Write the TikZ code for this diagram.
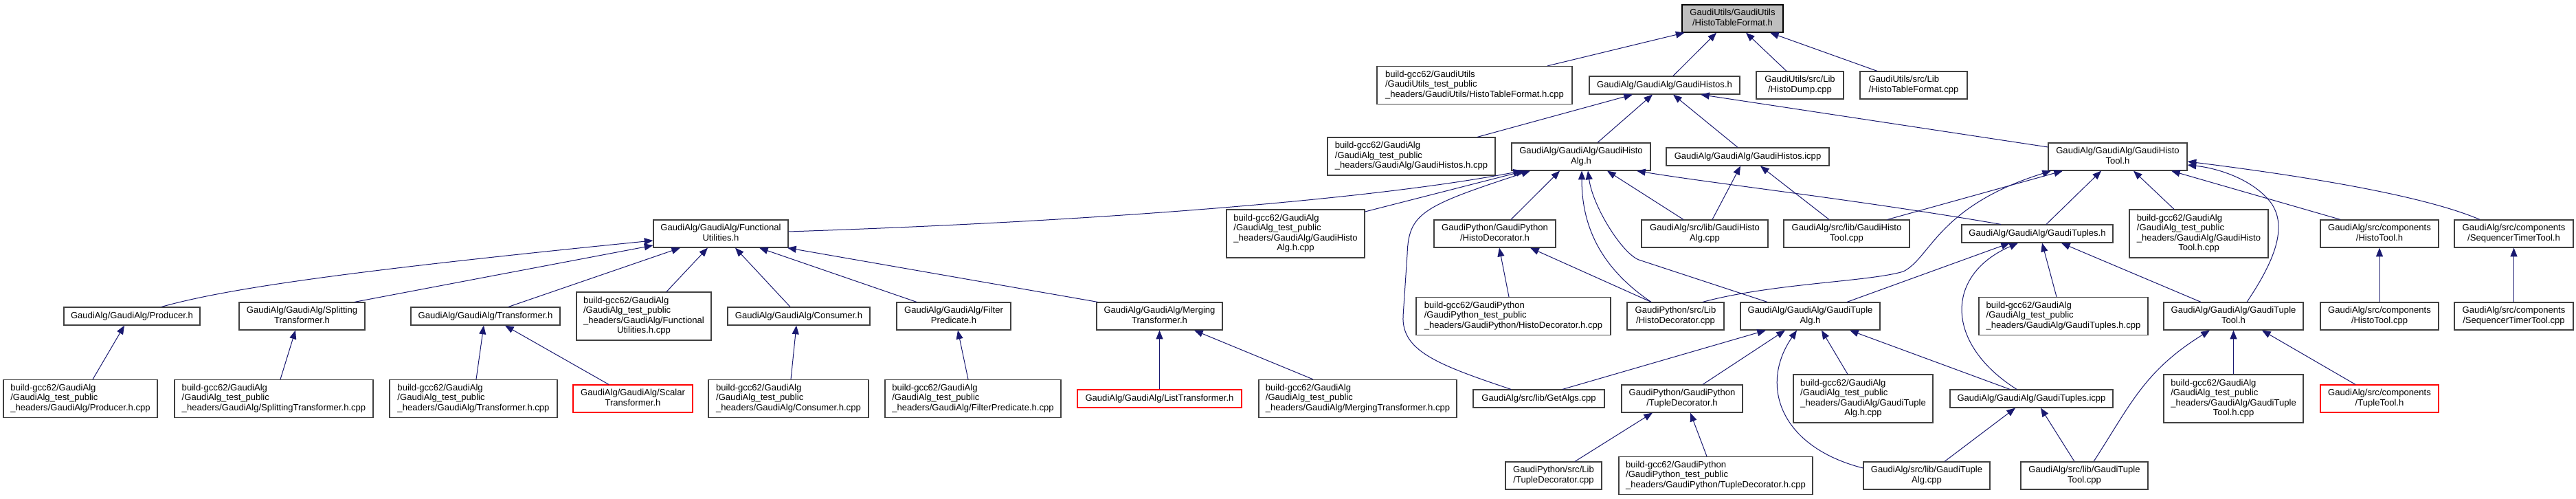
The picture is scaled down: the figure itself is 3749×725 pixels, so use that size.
\documentclass[tikz,border=0pt]{standalone}
\usepackage{fontspec}
\setmainfont{Liberation Sans}
\usetikzlibrary{arrows.meta}
\newcommand{\lbl}[2]{\begin{tabular}{@{}l@{}}#1\\\multicolumn{1}{@{}c@{}}{#2}\end{tabular}}
\begin{document}
\begin{tikzpicture}[x=0.75pt,y=-0.75pt,
 box/.style={draw={rgb,255:red,64;green,64;blue,64}, line width=0.9pt, fill=white, inner sep=0pt, font=\fontsize{9.8}{10.9}\selectfont},
 sz/.style 2 args={minimum width=#1*0.75pt, minimum height=#2*0.75pt},
 redbox/.style={box, draw=red},
 topbox/.style={box, draw=black, fill={rgb,255:red,191;green,191;blue,191}},
 edge/.style={draw={rgb,255:red,25;green,25;blue,112}, line width=0.75pt, -{Triangle[length=9.5pt,width=7.5pt]}}]
\fill[white] (0,0) rectangle (3749,725);
\useasboundingbox (0,0) rectangle (3749,725);

% row 0
\node[topbox, sz={147}{40}] (top) at (2521.5,27) {\lbl{GaudiUtils/GaudiUtils}{/HistoTableFormat.h}};
% row 1
\node[box, sz={284}{55}] (bHTF) at (2146,124) {\lbl{build-gcc62/GaudiUtils\\/GaudiUtils\_test\_public}{\_headers/GaudiUtils/HistoTableFormat.h.cpp}};
\node[box, sz={219}{26}] (GH) at (2422.5,124) {GaudiAlg/GaudiAlg/GaudiHistos.h};
\node[box, sz={127}{40}] (HDump) at (2619.5,124) {\lbl{GaudiUtils/src/Lib}{/HistoDump.cpp}};
\node[box, sz={156}{40}] (HTFcpp) at (2785,124) {\lbl{GaudiUtils/src/Lib}{/HistoTableFormat.cpp}};
% row 2
\node[box, sz={244}{55}] (bGH) at (2054,227.5) {\lbl{build-gcc62/GaudiAlg\\/GaudiAlg\_test\_public}{\_headers/GaudiAlg/GaudiHistos.h.cpp}};
\node[box, sz={202}{40}] (GHA) at (2301,228) {\lbl{GaudiAlg/GaudiAlg/GaudiHisto}{Alg.h}};
\node[box, sz={237}{26}] (GHicpp) at (2543.5,228) {GaudiAlg/GaudiAlg/GaudiHistos.icpp};
\node[box, sz={202}{40}] (GHT) at (3082,228) {\lbl{GaudiAlg/GaudiAlg/GaudiHisto}{Tool.h}};
% row 3
\node[box, sz={196}{40}] (FU) at (1049,340) {\lbl{GaudiAlg/GaudiAlg/Functional}{Utilities.h}};
\node[box, sz={201}{70}] (bGHA) at (1885.5,340) {\lbl{build-gcc62/GaudiAlg\\/GaudiAlg\_test\_public\\\_headers/GaudiAlg/GaudiHisto}{Alg.h.cpp}};
\node[box, sz={177}{40}] (HDh) at (2175.5,340) {\lbl{GaudiPython/GaudiPython}{/HistoDecorator.h}};
\node[box, sz={184}{40}] (GHAcpp) at (2481,340) {\lbl{GaudiAlg/src/lib/GaudiHisto}{Alg.cpp}};
\node[box, sz={183}{40}] (GHTcpp) at (2687.5,340) {\lbl{GaudiAlg/src/lib/GaudiHisto}{Tool.cpp}};
\node[box, sz={220}{26}] (GTs) at (2965,340) {GaudiAlg/GaudiAlg/GaudiTuples.h};
\node[box, sz={202}{70}] (bGHT) at (3200,340) {\lbl{build-gcc62/GaudiAlg\\/GaudiAlg\_test\_public\\\_headers/GaudiAlg/GaudiHisto}{Tool.h.cpp}};
\node[box, sz={172}{40}] (HTh) at (3463,340) {\lbl{GaudiAlg/src/components}{/HistoTool.h}};
\node[box, sz={173}{40}] (STTh) at (3658.5,340) {\lbl{GaudiAlg/src/components}{/SequencerTimerTool.h}};
% row 4
\node[box, sz={198}{26}] (Prod) at (192,460) {GaudiAlg/GaudiAlg/Producer.h};
\node[box, sz={183}{40}] (Split) at (439.5,460) {\lbl{GaudiAlg/GaudiAlg/Splitting}{Transformer.h}};
\node[box, sz={217}{26}] (Trans) at (706.5,460) {GaudiAlg/GaudiAlg/Transformer.h};
\node[box, sz={196}{70}] (bFU) at (937,460) {\lbl{build-gcc62/GaudiAlg\\/GaudiAlg\_test\_public\\\_headers/GaudiAlg/Functional}{Utilities.h.cpp}};
\node[box, sz={207}{26}] (Cons) at (1162.5,460) {GaudiAlg/GaudiAlg/Consumer.h};
\node[box, sz={166}{40}] (Filt) at (1388,460) {\lbl{GaudiAlg/GaudiAlg/Filter}{Predicate.h}};
\node[box, sz={183}{40}] (Merg) at (1687.5,460) {\lbl{GaudiAlg/GaudiAlg/Merging}{Transformer.h}};
\node[box, sz={283}{55}] (bHDh) at (2202.5,460) {\lbl{build-gcc62/GaudiPython\\/GaudiPython\_test\_public}{\_headers/GaudiPython/HistoDecorator.h.cpp}};
\node[box, sz={141}{40}] (HDcpp) at (2438.5,460) {\lbl{GaudiPython/src/Lib}{/HistoDecorator.cpp}};
\node[box, sz={203}{40}] (GTAh) at (2634.5,460) {\lbl{GaudiAlg/GaudiAlg/GaudiTuple}{Alg.h}};
\node[box, sz={246}{55}] (bGTs) at (3003,460) {\lbl{build-gcc62/GaudiAlg\\/GaudiAlg\_test\_public}{\_headers/GaudiAlg/GaudiTuples.h.cpp}};
\node[box, sz={203}{40}] (GTTh) at (3250.5,460) {\lbl{GaudiAlg/GaudiAlg/GaudiTuple}{Tool.h}};
\node[box, sz={172}{40}] (HTcpp) at (3463,460) {\lbl{GaudiAlg/src/components}{/HistoTool.cpp}};
\node[box, sz={173}{40}] (STTcpp) at (3658.5,460) {\lbl{GaudiAlg/src/components}{/SequencerTimerTool.cpp}};
% row 5
\node[box, sz={224}{55}] (bProd) at (117,580) {\lbl{build-gcc62/GaudiAlg\\/GaudiAlg\_test\_public}{\_headers/GaudiAlg/Producer.h.cpp}};
\node[box, sz={289}{55}] (bSplit) at (398.5,580) {\lbl{build-gcc62/GaudiAlg\\/GaudiAlg\_test\_public}{\_headers/GaudiAlg/SplittingTransformer.h.cpp}};
\node[box, sz={244}{55}] (bTrans) at (689,580) {\lbl{build-gcc62/GaudiAlg\\/GaudiAlg\_test\_public}{\_headers/GaudiAlg/Transformer.h.cpp}};
\node[redbox, sz={174}{40}] (Scalar) at (921,580) {\lbl{GaudiAlg/GaudiAlg/Scalar}{Transformer.h}};
\node[box, sz={233}{55}] (bCons) at (1147.5,580) {\lbl{build-gcc62/GaudiAlg\\/GaudiAlg\_test\_public}{\_headers/GaudiAlg/Consumer.h.cpp}};
\node[box, sz={256}{55}] (bFilt) at (1416,580) {\lbl{build-gcc62/GaudiAlg\\/GaudiAlg\_test\_public}{\_headers/GaudiAlg/FilterPredicate.h.cpp}};
\node[redbox, sz={239}{26}] (List) at (1687.5,580) {GaudiAlg/GaudiAlg/ListTransformer.h};
\node[box, sz={288}{55}] (bMerg) at (1976,580) {\lbl{build-gcc62/GaudiAlg\\/GaudiAlg\_test\_public}{\_headers/GaudiAlg/MergingTransformer.h.cpp}};
\node[box, sz={191}{26}] (GetAlgs) at (2239.5,580) {GaudiAlg/src/lib/GetAlgs.cpp};
\node[box, sz={176}{40}] (TDh) at (2448,580) {\lbl{GaudiPython/GaudiPython}{/TupleDecorator.h}};
\node[box, sz={203}{70}] (bGTA) at (2711.5,580) {\lbl{build-gcc62/GaudiAlg\\/GaudiAlg\_test\_public\\\_headers/GaudiAlg/GaudiTuple}{Alg.h.cpp}};
\node[box, sz={237}{26}] (GTsicpp) at (2956.5,580) {GaudiAlg/GaudiAlg/GaudiTuples.icpp};
\node[box, sz={203}{70}] (bGTT) at (3250.5,580) {\lbl{build-gcc62/GaudiAlg\\/GaudiAlg\_test\_public\\\_headers/GaudiAlg/GaudiTuple}{Tool.h.cpp}};
\node[redbox, sz={172}{40}] (TTh) at (3463,580) {\lbl{GaudiAlg/src/components}{/TupleTool.h}};
% row 6
\node[box, sz={140}{40}] (TDcpp) at (2261,692) {\lbl{GaudiPython/src/Lib}{/TupleDecorator.cpp}};
\node[box, sz={282}{55}] (bTDh) at (2497,692) {\lbl{build-gcc62/GaudiPython\\/GaudiPython\_test\_public}{\_headers/GaudiPython/TupleDecorator.h.cpp}};
\node[box, sz={184}{40}] (GTAcpp) at (2804,692) {\lbl{GaudiAlg/src/lib/GaudiTuple}{Alg.cpp}};
\node[box, sz={185}{40}] (GTTcpp) at (3033.5,692) {\lbl{GaudiAlg/src/lib/GaudiTuple}{Tool.cpp}};

% edges to top
\draw[edge] ([shift={(106,0)}]bHTF.north) -- ([shift={(-70,0)}]top.south);
\draw[edge] ([shift={(12.5,0)}]GH.north) -- ([shift={(-23.5,0)}]top.south);
\draw[edge] ([shift={(-19.5,0)}]HDump.north) -- ([shift={(19.5,0)}]top.south);
\draw[edge] ([shift={(-53,0)}]HTFcpp.north) -- ([shift={(54.5,0)}]top.south);
% edges to GaudiHistos.h
\draw[edge] ([shift={(96,0)}]bGH.north) -- ([shift={(-46.5,0)}]GH.south);
\draw[edge] ([shift={(24,0)}]GHA.north) -- ([shift={(-17.5,0)}]GH.south);
\draw[edge] ([shift={(-14.5,0)}]GHicpp.north) -- ([shift={(12.5,0)}]GH.south);
\draw[edge] ([shift={(0,-14)}]GHT.west) -- ([shift={(52.5,0)}]GH.south);
% edges to GaudiHistos.icpp
\draw[edge] ([shift={(11,0)}]GHAcpp.north) -- ([shift={(-10.5,0)}]GHicpp.south);
\draw[edge] ([shift={(-25.5,0)}]GHTcpp.north) -- ([shift={(18.5,0)}]GHicpp.south);
% edges to GaudiHistoAlg.h
\draw[edge] ([shift={(0,-3)}]FU.east) .. controls (1600,322) and (2000,290) .. ([shift={(-86,0)}]GHA.south);
\draw[edge] ([shift={(0,-32)}]bGHA.east) -- ([shift={(-82,0)}]GHA.south);
\draw[edge] ([shift={(-40.5,0)}]GetAlgs.north) .. controls (2090,530) and (2040,510) .. (2042,460) -- (2048,370) .. controls (2050,310) and (2070,300) .. ([shift={(-74,0)}]GHA.south);
\draw[edge] ([shift={(23.5,0)}]HDh.north) -- ([shift={(-31,0)}]GHA.south);
\draw[edge] ([shift={(-35.5,0)}]HDcpp.north) .. controls (2330,390) and (2302,330) .. ([shift={(1,0)}]GHA.south);
\draw[edge] ([shift={(-62.5,0)}]GTAh.north) -- (2385,378) .. controls (2360,368) and (2318,300) .. ([shift={(10,0)}]GHA.south);
\draw[edge] ([shift={(-31,0)}]GHAcpp.north) -- ([shift={(38,0)}]GHA.south);
\draw[edge] ([shift={(-53,0)}]GTs.north) .. controls (2700,290) and (2500,268) .. ([shift={(81,0)}]GHA.south);
% edges to GaudiHistoTool.h
\draw[edge] ([shift={(39.5,0)}]HDcpp.north) .. controls (2580,412) and (2720,410) .. (2770,395) .. controls (2810,375) and (2820,300) .. ([shift={(-97,0)}]GHT.south);
\draw[edge] ([shift={(59.5,0)}]GHTcpp.north) -- ([shift={(-80,0)}]GHT.south);
\draw[edge] ([shift={(13,0)}]GTs.north) -- ([shift={(-24,0)}]GHT.south);
\draw[edge] ([shift={(-36,0)}]bGHT.north) -- ([shift={(23,0)}]GHT.south);
\draw[edge] ([shift={(-57,0)}]HTh.north) -- ([shift={(78,0)}]GHT.south);
\draw[edge] ([shift={(-49.5,0)}]STTh.north) .. controls (3540,290) and (3400,262) .. ([shift={(0,7)}]GHT.east);
\draw[edge] ([shift={(19.5,0)}]GTTh.north) .. controls (3310,380) and (3330,330) .. (3305,295) .. controls (3280,262) and (3230,245) .. ([shift={(0,12)}]GHT.east);
% edges to GaudiTuples.h
\draw[edge] ([shift={(53.5,0)}]GTAh.north) -- ([shift={(-40,0)}]GTs.south);
\draw[edge] ([shift={(-21.5,0)}]GTsicpp.north) .. controls (2830,500) and (2830,400) .. ([shift={(-28,0)}]GTs.south);
\draw[edge] ([shift={(-10,0)}]bGTs.north) -- ([shift={(7,0)}]GTs.south);
\draw[edge] ([shift={(-47.5,0)}]GTTh.north) -- ([shift={(35,0)}]GTs.south);
% edges to GaudiTupleAlg.h
\draw[edge] ([shift={(34.5,0)}]GetAlgs.north) -- ([shift={(-64.5,0)}]GTAh.south);
\draw[edge] ([shift={(30,0)}]TDh.north) -- ([shift={(-36.5,0)}]GTAh.south);
\draw[edge] ([shift={(0,-11)}]GTAcpp.west) .. controls (2590,650) and (2560,560) .. ([shift={(-19.5,0)}]GTAh.south);
\draw[edge] ([shift={(-22.5,0)}]bGTA.north) -- ([shift={(16.5,0)}]GTAh.south);
\draw[edge] ([shift={(-31.5,0)}]GTsicpp.north) -- ([shift={(57.5,0)}]GTAh.south);
% edges to GaudiTuples.icpp
\draw[edge] ([shift={(26,0)}]GTAcpp.north) -- ([shift={(-23.5,0)}]GTsicpp.south);
\draw[edge] ([shift={(-14.5,0)}]GTTcpp.north) -- ([shift={(13.5,0)}]GTsicpp.south);
% edges to GaudiTupleTool.h
\draw[edge] ([shift={(13.5,0)}]GTTcpp.north) .. controls (3100,590) and (3120,540) .. ([shift={(-34.5,0)}]GTTh.south);
\draw[edge] (bGTT.north) -- (GTTh.south);
\draw[edge] ([shift={(-35,0)}]TTh.north) -- ([shift={(41.5,0)}]GTTh.south);
% components
\draw[edge] (HTcpp.north) -- (HTh.south);
\draw[edge] (STTcpp.north) -- (STTh.south);
% HistoDecorator.h
\draw[edge] ([shift={(-6.5,0)}]bHDh.north) -- ([shift={(6.5,0)}]HDh.south);
\draw[edge] ([shift={(-35.5,0)}]HDcpp.north) -- ([shift={(51.5,0)}]HDh.south);
% TupleDecorator.h
\draw[edge] ([shift={(31,0)}]TDcpp.north) -- ([shift={(-43,0)}]TDh.south);
\draw[edge] ([shift={(-13,0)}]bTDh.north) -- ([shift={(12,0)}]TDh.south);
% edges to FunctionalUtilities.h
\draw[edge] ([shift={(43,0)}]Prod.north) .. controls (330,420) and (500,395) .. ([shift={(0,10)}]FU.west);
\draw[edge] ([shift={(76.5,0)}]Split.north) -- ([shift={(0,17)}]FU.west);
\draw[edge] ([shift={(33.5,0)}]Trans.north) -- ([shift={(-59,0)}]FU.south);
\draw[edge] ([shift={(33,0)}]bFU.north) -- ([shift={(-19,0)}]FU.south);
\draw[edge] ([shift={(-12.5,0)}]Cons.north) -- ([shift={(21,0)}]FU.south);
\draw[edge] ([shift={(-54,0)}]Filt.north) -- ([shift={(56,0)}]FU.south);
\draw[edge] ([shift={(-90,0)}]Merg.north) -- ([shift={(97,0)}]FU.south);
% lower level
\draw[edge] ([shift={(18,0)}]bProd.north) -- ([shift={(-11,0)}]Prod.south);
\draw[edge] ([shift={(9.5,0)}]bSplit.north) -- ([shift={(-9.5,0)}]Split.south);
\draw[edge] ([shift={(4,0)}]bTrans.north) -- ([shift={(-2.5,0)}]Trans.south);
\draw[edge] ([shift={(-35,0)}]Scalar.north) -- ([shift={(28.5,0)}]Trans.south);
\draw[edge] ([shift={(3.5,0)}]bCons.north) -- ([shift={(-3.5,0)}]Cons.south);
\draw[edge] ([shift={(-7,0)}]bFilt.north) -- ([shift={(6,0)}]Filt.south);
\draw[edge] (List.north) -- (Merg.south);
\draw[edge] ([shift={(-65,0)}]bMerg.north) -- ([shift={(50.5,0)}]Merg.south);
\end{tikzpicture}
\end{document}
